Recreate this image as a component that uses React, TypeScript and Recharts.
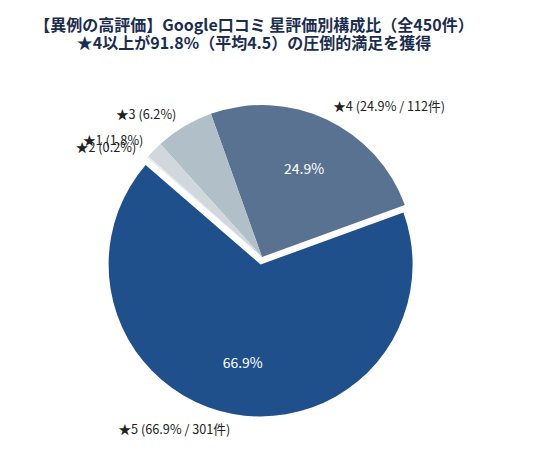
import React from "react";
import { PieChart, Pie, Cell } from "recharts";

const categories = ["★4", "★3", "★1", "★2", "★5"];
const shares = [24.9, 6.2, 1.8, 0.2, 66.9];
const counts = [112, 28, 8, 1, 301];
const outerLabels = [
  "★4 (24.9% / 112件)",
  "★3 (6.2%)",
  "★1 (1.8%)",
  "★2 (0.2%)",
  "★5 (66.9% / 301件)",
];
const innerLabels = ["24.9%", "", "", "", "66.9%"];
const colors = ["#5a7291", "#b1bfc9", "#d0d8de", "#e6eaee", "#1f508c"];
const titleLines = [
  "【異例の高評価】Google口コミ 星評価別構成比（全450件）",
  "★4以上が91.8%（平均4.5）の圧倒的満足を獲得",
];

const data = categories.map((c, i) => ({ name: c, value: shares[i], count: counts[i] }));

const RAD = Math.PI / 180;
const FONT = "'Noto Sans CJK JP', 'Noto Sans', sans-serif";
const EXPLODED = 4;

const makeLabel = (show: (i: number) => boolean) => (props: any) => {
  const { cx, cy, midAngle, outerRadius, index } = props;
  if (!show(index)) return null;
  const cos = Math.cos(-midAngle * RAD);
  const sin = Math.sin(-midAngle * RAD);
  const ox = cx + outerRadius * 1.1 * cos;
  const oy = cy + outerRadius * 1.1 * sin;
  const ix = cx + outerRadius * 0.65 * cos;
  const iy = cy + outerRadius * 0.65 * sin;
  return (
    <g key={`lbl-${index}`}>
      <text
        x={ox}
        y={oy}
        textAnchor={cos >= 0 ? "start" : "end"}
        dominantBaseline="central"
        fontSize={12.7}
        fontFamily={FONT}
        fill="#222"
      >
        {outerLabels[index]}
      </text>
      {innerLabels[index] ? (
        <text
          x={ix}
          y={iy}
          textAnchor="middle"
          dominantBaseline="central"
          fontSize={14}
          fontFamily={FONT}
          fill="#ffffff"
        >
          {innerLabels[index]}
        </text>
      ) : null}
    </g>
  );
};

export default function App() {
  return (
    <div style={{ position: "fixed", left: 0, top: 0, width: 536, height: 451, background: "#fff" }}>
      <div
        style={{
          position: "absolute",
          left: 0,
          top: 14.5,
          width: 508,
          textAlign: "center",
          fontFamily: FONT,
          fontWeight: 700,
          fontSize: 16,
          lineHeight: "18.5px",
          color: "#1b2d4f",
        }}
      >
        {titleLines.map((t) => (
          <div key={t}>{t}</div>
        ))}
      </div>
      <div style={{ position: "absolute", left: 0, top: 0 }}>
        <PieChart width={536} height={451} margin={{ top: 0, right: 0, bottom: 0, left: 0 }}>
          <Pie
            data={data}
            dataKey="value"
            cx={262}
            cy={257}
            outerRadius={152}
            startAngle={20}
            endAngle={380}
            stroke="none"
            labelLine={false}
            label={makeLabel((i) => i !== EXPLODED)}
            isAnimationActive={false}
          >
            {data.map((d, i) => (
              <Cell key={d.name} fill={i === EXPLODED ? "transparent" : colors[i]} />
            ))}
          </Pie>
          <Pie
            data={data}
            dataKey="value"
            cx={260.6}
            cy={264.5}
            outerRadius={152}
            startAngle={20}
            endAngle={380}
            stroke="none"
            labelLine={false}
            label={makeLabel((i) => i === EXPLODED)}
            isAnimationActive={false}
          >
            {data.map((d, i) => (
              <Cell key={d.name} fill={i === EXPLODED ? colors[i] : "transparent"} />
            ))}
          </Pie>
        </PieChart>
      </div>
    </div>
  );
}
